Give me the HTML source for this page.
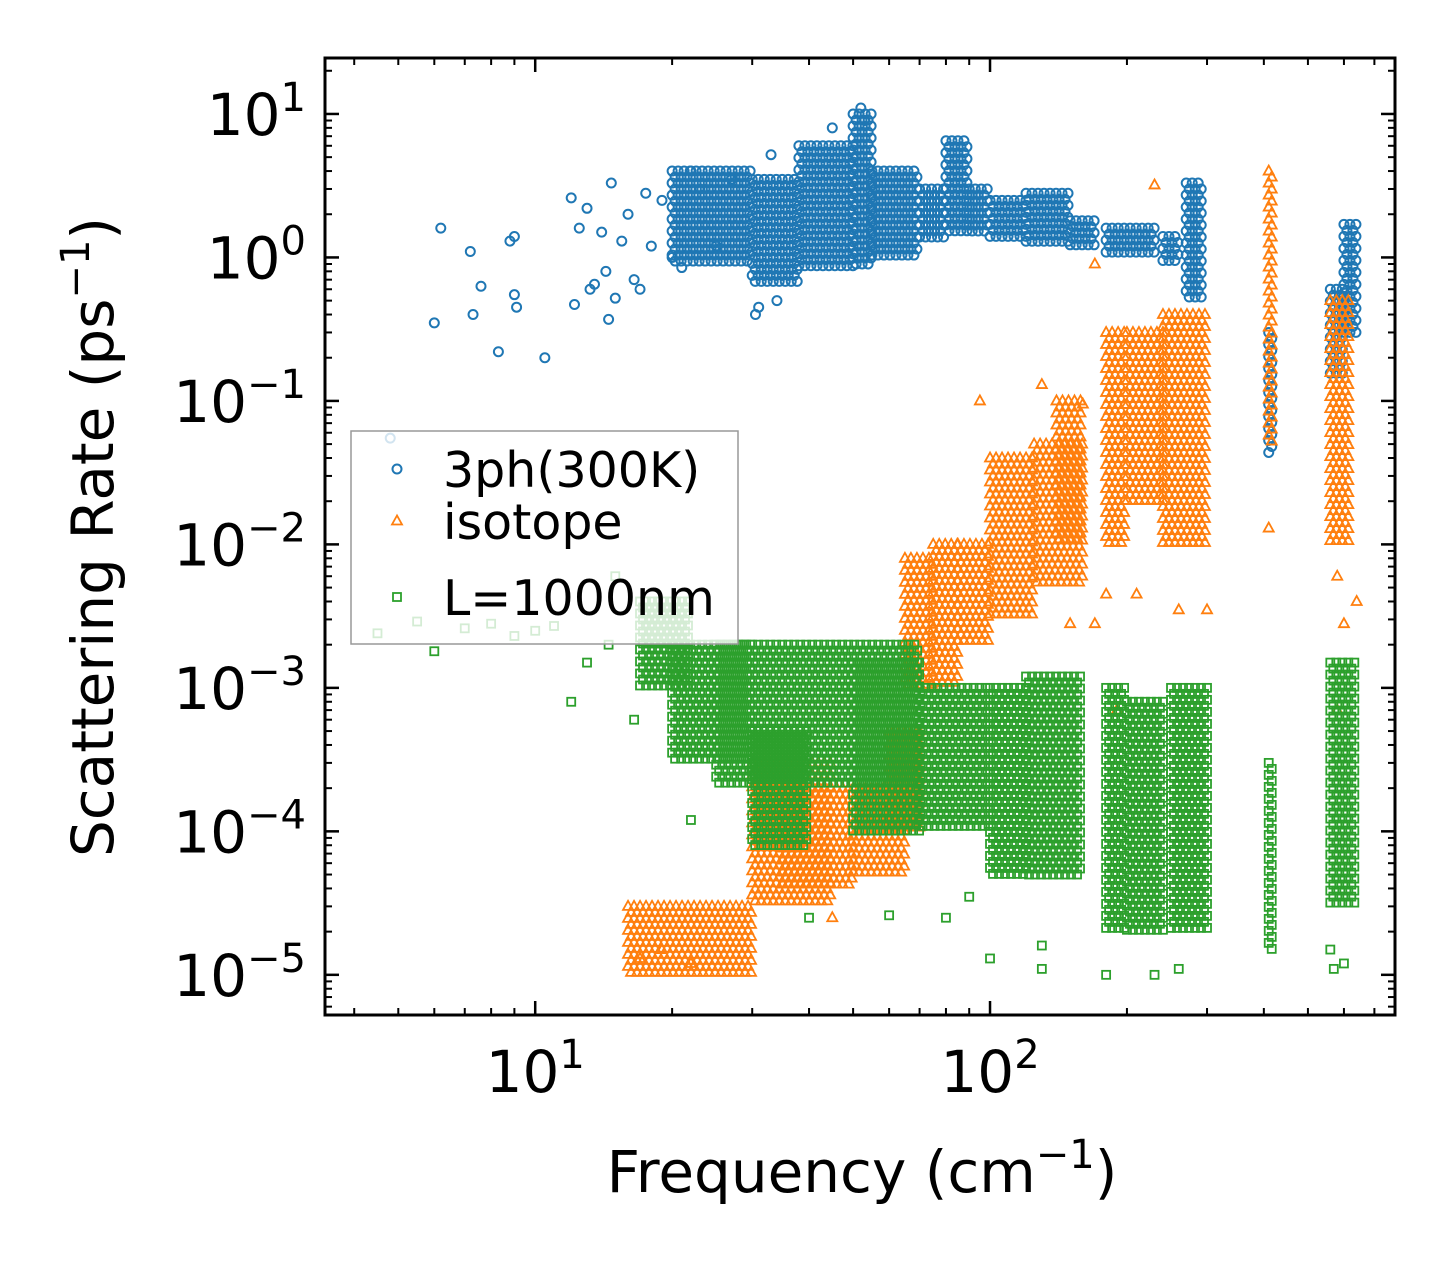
<!DOCTYPE html>
<html><head><meta charset="utf-8"><style>
html,body{margin:0;padding:0;background:#fff;}
svg{display:block;font-family:"DejaVu Sans","Liberation Sans",sans-serif;}
</style></head><body>
<svg id="chart" width="1455" height="1265" xmlns="http://www.w3.org/2000/svg">
<rect width="1455" height="1265" fill="#fff"/>
<g id="marks"></g>
<g id="axes"></g>
<g id="legend"></g>
</svg>
<script>
// ---- data (frequency cm^-1, rate ps^-1) ----
const bluePtsF = [6,6.2,7.2,7.3,7.6,8.3,8.8,9,9,9.1,10.5,12,12.2,12.5,13,13.2,13.5,14,14.3,14.5,14.7,15,15.5,16,16.5,17,17.5,18,19,20,21,22,23,25,27,30.5,31,33,34,52,53,45,4.8];
const bluePtsR = [0.35,1.6,1.1,0.4,0.63,0.22,1.3,1.4,0.55,0.45,0.2,2.6,0.47,1.6,2.2,0.6,0.65,1.5,0.8,0.37,3.3,0.52,1.3,2,0.7,0.6,2.8,1.2,2.5,1,0.85,4,3,1.2,3.5,0.4,0.45,5.2,0.5,11,9,8,0.055];
const blueBandF0 = [20,30,38,50,55,70,80,90,100,120,150,180,240,270,410,560,600];
const blueBandF1 = [30,38,50,55,70,80,90,100,120,150,170,230,260,295,420,600,640];
const blueBandR0 = [0.9,0.65,0.8,0.9,1.0,1.3,1.5,1.5,1.4,1.2,1.2,1.0,0.9,0.5,0.04,0.15,0.3];
const blueBandR1 = [4,3.5,6,10,4,3,6.5,3,2.5,2.8,1.8,1.6,1.4,3.3,0.3,0.6,1.7];

const orangePtsF = [230,170,160,130,95,180,210,260,300,150,170,410,640,600,580,580,190,17,19,22,60,45];
const orangePtsR = [3.2,0.9,0.095,0.13,0.1,0.0045,0.0045,0.0035,0.0035,0.0028,0.0028,0.013,0.004,0.0028,0.0007,0.006,0.0007,1.3e-5,1.5e-5,1.2e-5,2.7e-4,2.5e-5];
const orangeBandF0 = [16,30,35,50,60,65,75,85,100,125,140,180,200,240,410,560];
const orangeBandF1 = [30,45,50,65,70,75,85,100,125,160,160,200,240,300,420,620];
const orangeBandR0 = [1e-5,3e-5,4e-5,5e-5,1e-4,1e-3,1e-3,2e-3,3e-3,5e-3,0.01,0.01,0.02,0.01,0.05,0.01];
const orangeBandR1 = [3e-5,3e-4,2e-4,2e-4,5e-4,8e-3,0.01,0.01,0.04,0.05,0.1,0.3,0.3,0.4,4,0.5];

const greenPtsF = [12,13,14.5,15,16.5,30,22,40,60,80,90,100,130,130,180,230,260,570,600,560,6,5.5,4.5,7,8,9,11,10];
const greenPtsR = [8e-4,1.5e-3,2e-3,6e-3,6e-4,3e-4,1.2e-4,2.5e-5,2.6e-5,2.5e-5,3.5e-5,1.3e-5,1.1e-5,1.6e-5,1e-5,1e-5,1.1e-5,1.1e-5,1.2e-5,1.5e-5,1.8e-3,2.9e-3,2.4e-3,2.6e-3,2.8e-3,2.3e-3,2.7e-3,2.5e-3];
const greenBandF0 = [17,20,25,30,50,70,100,120,180,200,250,410,560];
const greenBandF1 = [22,30,70,40,70,100,120,160,200,240,300,420,640];
const greenBandR0 = [1e-3,3e-4,2e-4,8e-5,1e-4,1e-4,5e-5,5e-5,2e-5,2e-5,2e-5,1.5e-5,3e-5];
const greenBandR1 = [4e-3,2e-3,2e-3,5e-4,1.5e-3,1e-3,1e-3,1.2e-3,1e-3,8e-4,1e-3,3e-4,1.5e-3];

const xTickVals = [10,100];
const xTickLabels = ["1","2"];
const yTickVals = [10,1,0.1,0.01,0.001,1e-4,1e-5];
const yTickLabels = ["1","0","\u22121","\u22122","\u22123","\u22124","\u22125"];

// ---- axes functions ----
const L=325,R=1395,T=58,B=1015;
const xLogMin=Math.log10(3.45), xLogMax=Math.log10(777);
const yLogMin=-5.28, yLogMax=1.39;
function X(f){return L+(Math.log10(f)-xLogMin)/(xLogMax-xLogMin)*(R-L);}
function Y(r){return B-(Math.log10(r)-yLogMin)/(yLogMax-yLogMin)*(B-T);}

const NS="http://www.w3.org/2000/svg";
function mk(tag,attrs,parent){const e=document.createElementNS(NS,tag);for(const k in attrs)e.setAttribute(k,attrs[k]);parent.appendChild(e);return e;}
const marks=document.getElementById('marks');
const axes=document.getElementById('axes');
const legend=document.getElementById('legend');

const colors={blue:"#1f77b4",orange:"#ff7f0e",green:"#2ca02c"};
function marker(kind,cx,cy,parent){
  let e;
  if(kind==="blue"){e=mk('circle',{cx:cx,cy:cy,r:4.5,fill:"none",stroke:colors.blue,"stroke-width":2},parent);}
  else if(kind==="orange"){e=mk('polygon',{points:`${cx},${cy-5.5} ${cx-5},${cy+3.5} ${cx+5},${cy+3.5}`,fill:"none",stroke:colors.orange,"stroke-width":1.8},parent);}
  else {e=mk('rect',{x:cx-4,y:cy-4,width:8,height:8,fill:"none",stroke:colors.green,"stroke-width":1.8},parent);}
  return e;
}
function drawSeries(kind,pf,pr,bf0,bf1,br0,br1){
  const g=mk('g',{},marks);
  
  
  for(let b=0;b<bf0.length;b++){
    const x0=X(bf0[b]),x1=X(bf1[b]),y0=Y(br0[b]),y1=Y(br1[b]);
    const step=6;let row=0;
    for(let y=y1;y<=y0;y+=step,row++){
      for(let x=x0+((row%2)?step/2:0);x<=x1;x+=step){
        const m=marker(kind,x,y,g);
        
        
      }
    }
  }
  for(let i=0;i<pf.length;i++){
    const m=marker(kind,X(pf[i]),Y(pr[i]),g);
    
    
  }
}
drawSeries('blue',bluePtsF,bluePtsR,blueBandF0,blueBandF1,blueBandR0,blueBandR1);
drawSeries('orange',orangePtsF,orangePtsR,orangeBandF0,orangeBandF1,orangeBandR0,orangeBandR1);
drawSeries('green',greenPtsF,greenPtsR,greenBandF0,greenBandF1,greenBandR0,greenBandR1);

// ---- spines & ticks ----
const frame=mk('rect',{x:L,y:T,width:R-L,height:B-T,fill:"none",stroke:"#000","stroke-width":3},axes);


function tick(x1,y1,x2,y2,w){const t=mk('line',{x1,y1,x2,y2,stroke:"#000","stroke-width":w},axes);}
for(let d=0;d<=2;d++){for(let k=1;k<10;k++){const v=k*Math.pow(10,d);if(v<3.45||v>777)continue;const x=X(v);const len=k===1?14:7,w=k===1?2.5:2;tick(x,B,x,B-len,w);tick(x,T,x,T+len,w);}}
for(let d=-6;d<=1;d++){for(let k=1;k<10;k++){const v=k*Math.pow(10,d);const ly=Math.log10(v);if(ly<yLogMin||ly>yLogMax)continue;const y=Y(v);const len=k===1?14:7,w=k===1?2.5:2;tick(L,y,L+len,y,w);tick(R,y,R-len,y,w);}}
for(let i=0;i<xTickVals.length;i++){
  const t=mk('text',{x:X(xTickVals[i]),y:1092,"text-anchor":"middle","font-size":58,fill:"#000"},axes);
  
  t.innerHTML=`10<tspan dy="-24" font-size="40">${xTickLabels[i]}</tspan>`;
}
for(let i=0;i<yTickVals.length;i++){
  const t=mk('text',{x:306,y:Y(yTickVals[i])+21,"text-anchor":"end","font-size":58,fill:"#000"},axes);
  
  t.innerHTML=`10<tspan dy="-24" font-size="40">${yTickLabels[i]}</tspan>`;
}
const xl=mk('text',{x:862,y:1192,"text-anchor":"middle","font-size":58,fill:"#000"},axes);

xl.innerHTML='Frequency (cm<tspan dy="-24" font-size="40">\u22121</tspan><tspan dy="24">)</tspan>';
const yl=mk('text',{x:0,y:0,"text-anchor":"middle","font-size":58,fill:"#000",transform:"translate(113,537) rotate(-90)"},axes);

yl.innerHTML='Scattering Rate (ps<tspan dy="-24" font-size="40">\u22121</tspan><tspan dy="24">)</tspan>';

// ---- legend ----
const lb=mk('rect',{x:351,y:431,width:387,height:213,fill:"rgba(255,255,255,0.8)",stroke:"#999","stroke-width":1.5},legend);

const legKinds=['blue','orange','green'];
const legLabels=['3ph(300K)','isotope','L=1000nm'];
const legY=[469,521,597];
for(let i=0;i<3;i++){
  const m=marker(legKinds[i],397,legY[i],legend);
  
  const t=mk('text',{x:443,y:legY[i]+18,"font-size":49,fill:"#000"},legend);
  t.textContent=legLabels[i];
  
}
</script>
</body></html>
